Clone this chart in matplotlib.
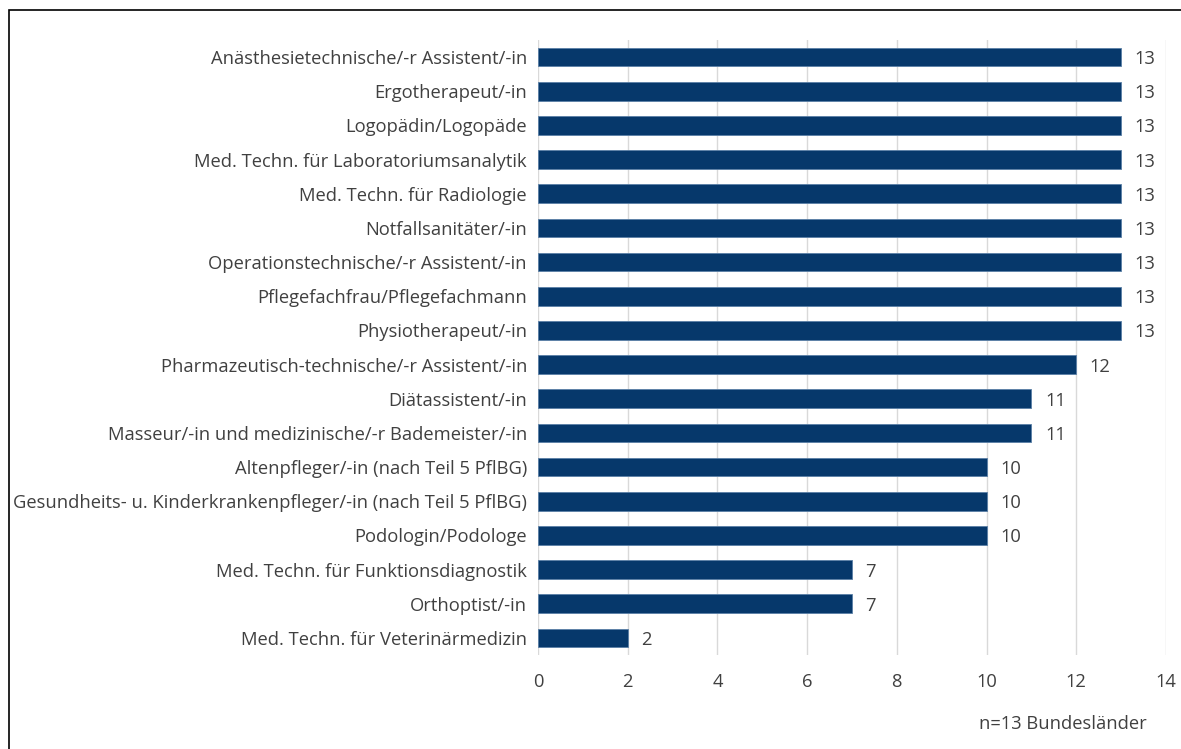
import matplotlib.pyplot as plt
from matplotlib.patches import Rectangle
import numpy as np

categories = [
    "Anästhesietechnische/-r Assistent/-in",
    "Ergotherapeut/-in",
    "Logopädin/Logopäde",
    "Med. Techn. für Laboratoriumsanalytik",
    "Med. Techn. für Radiologie",
    "Notfallsanitäter/-in",
    "Operationstechnische/-r Assistent/-in",
    "Pflegefachfrau/Pflegefachmann",
    "Physiotherapeut/-in",
    "Pharmazeutisch-technische/-r Assistent/-in",
    "Diätassistent/-in",
    "Masseur/-in und medizinische/-r Bademeister/-in",
    "Altenpfleger/-in (nach Teil 5 PflBG)",
    "Gesundheits- u. Kinderkrankenpfleger/-in (nach Teil 5 PflBG)",
    "Podologin/Podologe",
    "Med. Techn. für Funktionsdiagnostik",
    "Orthoptist/-in",
    "Med. Techn. für Veterinärmedizin",
]
values = [13, 13, 13, 13, 13, 13, 13, 13, 13, 12, 11, 11, 10, 10, 10, 7, 7, 2]
x_ticks = [0, 2, 4, 6, 8, 10, 12, 14]
note = "n=13 Bundesländer"

plt.rcParams['font.family'] = ['Open Sans', 'DejaVu Sans']
text_color = '#404040'
bar_color = '#06386b'
fs = 13.2

fig = plt.figure(figsize=(11.81, 7.49), dpi=100, facecolor='white')
ax = fig.add_axes([538 / 1181, 1 - 655 / 749, 628 / 1181, 615 / 749])

y = np.arange(len(categories))
ax.barh(y, values, height=0.55, color=bar_color, edgecolor='#5a7fa6',
        linewidth=0.6, zorder=3)
for yi, v in zip(y, values):
    ax.text(v + 0.3, yi, str(v), va='center_baseline', ha='left',
            fontsize=fs, color=text_color)

ax.set_ylim(len(categories) - 0.5, -0.5)
ax.set_xlim(0, 14)
ax.set_xticks(x_ticks)
ax.set_yticks(y)
ax.set_yticklabels(categories, va='center_baseline')
ax.tick_params(axis='both', length=0, labelsize=fs, labelcolor=text_color)
ax.tick_params(axis='y', pad=8)
ax.tick_params(axis='x', pad=13)
ax.grid(axis='x', color='#d9d9d9', linewidth=1, zorder=0)
for spine in ax.spines.values():
    spine.set_visible(False)

fig.text(1147 / 1181, 1 - 724 / 749, note, ha='right', va='center',
         fontsize=fs, color=text_color)

# frame around the chart (cropped on right and bottom)
fig.patches.append(Rectangle((9 / 1181, -0.1), 1.2, 1 - 10 / 749 + 0.1,
                             transform=fig.transFigure, fill=False,
                             edgecolor='black', linewidth=1.2))

fig.savefig('out.png', dpi=100, facecolor='white')
